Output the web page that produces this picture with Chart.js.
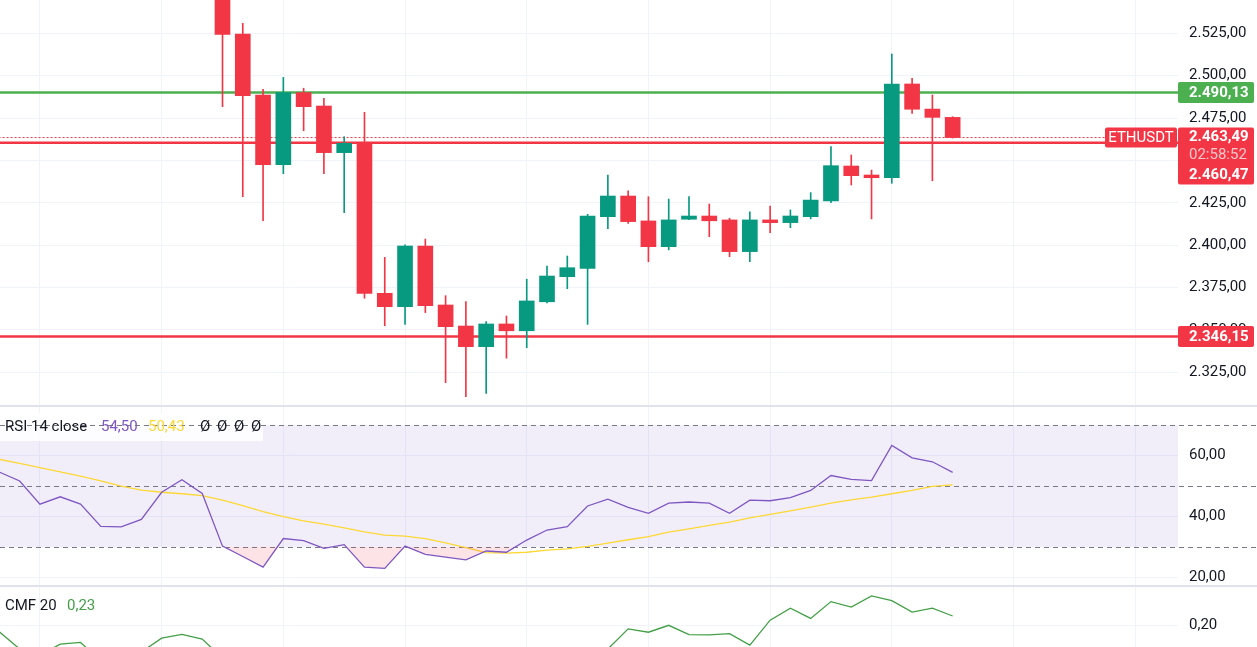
<!DOCTYPE html>
<html>
<head>
<meta charset="utf-8">
<script src="https://cdn.jsdelivr.net/npm/chart.js@4/dist/chart.umd.min.js"></script>
<style>
html, body { margin: 0; padding: 0; background: #fff; overflow: hidden; }
#wrap { position: relative; width: 1257px; height: 647px; }
canvas, .sep { position: absolute; left: 0; }
.sep { width: 1257px; height: 2px; background: #e0e3eb; }
</style>
</head>
<body>
<div id="wrap">
  <canvas id="main" width="1257" height="405" style="top:0"></canvas>
  <div class="sep" style="top:405px"></div>
  <canvas id="rsi" width="1257" height="178" style="top:407px"></canvas>
  <div class="sep" style="top:585px"></div>
  <canvas id="cmf" width="1257" height="60" style="top:587px"></canvas>
</div>
<script>
// bar index 0 sits on the first vertical grid line, candles begin at bar 9
const candleStart = 9;
const opens  = [2560.0, 2524.6, 2488.6, 2447.5, 2490.0, 2482.1, 2454.6, 2460.1, 2371.6, 2363.7,
                2399.5, 2364.7, 2352.3, 2340.1, 2353.5, 2349.5, 2366.6, 2381.4, 2386.3, 2416.8,
                2429.0, 2414.3, 2399.1, 2415.3, 2417.2, 2414.9, 2396.2, 2414.9, 2413.3, 2416.8,
                2426.1, 2446.7, 2441.4, 2439.8, 2495.1, 2480.3, 2475.4];
const highs  = [2566.0, 2530.9, 2492.0, 2499.0, 2492.6, 2486.6, 2464.0, 2478.4, 2392.8, 2400.2,
                2403.6, 2370.2, 2366.7, 2354.9, 2358.2, 2379.9, 2387.7, 2393.6, 2418.2, 2441.4,
                2432.0, 2428.6, 2427.2, 2428.6, 2424.3, 2415.9, 2419.7, 2423.1, 2420.8, 2431.0,
                2458.1, 2453.2, 2444.3, 2512.8, 2498.5, 2488.6, 2475.8];
const lows   = [2481.7, 2428.6, 2414.4, 2442.2, 2467.5, 2442.2, 2419.2, 2368.7, 2352.5, 2353.3,
                2360.2, 2318.9, 2310.6, 2312.6, 2333.3, 2339.5, 2366.0, 2374.3, 2353.3, 2409.7,
                2412.9, 2390.2, 2397.2, 2415.0, 2405.0, 2393.2, 2390.2, 2407.4, 2410.3, 2415.5,
                2425.1, 2435.5, 2415.5, 2436.5, 2477.8, 2438.0, 2463.2];
const closes = [2524.4, 2488.2, 2447.5, 2490.0, 2481.7, 2454.6, 2460.1, 2371.6, 2363.7, 2399.5,
                2364.3, 2351.9, 2340.1, 2353.5, 2349.5, 2367.1, 2381.8, 2386.7, 2417.2, 2429.0,
                2413.9, 2399.1, 2414.9, 2417.2, 2414.4, 2396.2, 2414.9, 2413.3, 2417.2, 2426.6,
                2446.9, 2441.0, 2439.8, 2495.1, 2480.2, 2475.4, 2463.49];

// indicator series begin at bar -2
const indStart = -2;
const rsiValues = [54.6, 51.7, 44.1, 46.5, 44.1, 36.8, 36.6, 39.1, 48.0, 52.1, 47.6,
                   30.3, 26.9, 23.4, 32.8, 32.1, 29.6, 30.8, 23.4, 23.0, 30.3,
                   27.6, 26.7, 25.8, 28.7, 28.3, 32.3, 35.6, 36.7, 43.5, 45.7,
                   43.0, 41.1, 44.4, 44.8, 44.4, 41.1, 45.4, 45.2, 46.2, 48.6,
                   53.5, 52.2, 51.8, 63.4, 59.3, 58.0, 54.50];
const rsiMa = [58.8, 57.5, 56.1, 54.7, 53.3, 51.7, 50.0, 48.7, 48.0, 47.5, 46.9,
               45.4, 43.6, 41.6, 40.0, 38.6, 37.5, 36.3, 35.0, 33.9, 33.6,
               32.8, 31.4, 29.8, 28.2, 28.0, 28.3, 29.0, 29.4, 30.2, 31.3,
               32.4, 33.4, 34.9, 36.0, 37.1, 38.2, 39.6, 40.7, 41.9, 43.1,
               44.4, 45.5, 46.4, 47.5, 48.6, 49.9, 50.43];
const cmfValues = [0.177, 0.12, 0.10, 0.136, 0.142, 0.08, 0.07, 0.11, 0.156, 0.169, 0.153,
                   0.09, 0.06, 0.04, 0.03, 0.02, 0.03, 0.01, -0.02, -0.03, -0.02,
                   -0.04, -0.05, -0.03, -0.02, 0.00, 0.03, 0.05, 0.08, 0.10, 0.12,
                   0.187, 0.176, 0.199, 0.168, 0.167, 0.171, 0.133, 0.216, 0.256, 0.222,
                   0.278, 0.260, 0.297, 0.281, 0.243, 0.256, 0.230];

const priceTicks = [2325, 2350, 2375, 2400, 2425, 2450, 2475, 2500, 2525];
const rsiTicks = [20, 40, 60];
const cmfTicks = [0.20];
const gridBars = [0, 6, 12, 18, 24, 30, 36, 42, 48, 54];

const resistance = 2490.13;
const supports = [2460.47, 2346.15];
const lastPrice = 2463.49;
const symbol = 'ETHUSDT';
const countdown = '02:58:52';

const UP = '#089981', DOWN = '#f23645', GRID = '#f0f3fa', TXT = '#131722';
const FONT = 'Roboto';

function fmt(v) {
  const parts = v.toFixed(2).split('.');
  return parts[0].replace(/\B(?=(\d{3})+(?!\d))/g, '.') + ',' + parts[1];
}

function xScale() {
  return {
    type: 'linear', min: -1.97, max: 56.11, offset: false,
    grid: { color: GRID, drawTicks: false, offset: false },
    border: { display: false },
    ticks: { display: false },
    afterBuildTicks: s => { s.ticks = gridBars.map(v => ({ value: v })); }
  };
}

function yScale(min, max, ticks) {
  return {
    position: 'right', min: min, max: max,
    grid: { color: GRID, drawTicks: false },
    border: { display: false },
    ticks: { padding: 11, color: TXT, font: { family: FONT, size: 15 }, callback: v => fmt(v) },
    afterBuildTicks: s => { s.ticks = ticks.map(v => ({ value: v })); },
    afterFit: s => { s.width = 79; s.paddingTop = 0; s.paddingBottom = 0; }
  };
}

const base = {
  responsive: false, animation: false, devicePixelRatio: 1,
  layout: { padding: 0 },
  plugins: { legend: { display: false }, tooltip: { enabled: false } }
};

function tag(ctx, x, y, w, h, color) {
  ctx.fillStyle = color;
  ctx.beginPath();
  ctx.roundRect(x, y, w, h, 2);
  ctx.fill();
}

function hline(value, color, width, dash) {
  return {
    type: 'line', order: 5,
    data: [{ x: -5, y: value }, { x: 60, y: value }],
    borderColor: color, borderWidth: width, borderDash: dash || [],
    pointRadius: 0, fill: false
  };
}

// ---- price pane ----
const candleColors = opens.map((o, n) => closes[n] >= o ? UP : DOWN);

const priceTags = {
  id: 'priceTags',
  afterDraw(chart) {
    const { ctx, chartArea, scales: { y } } = chart;
    const left = chartArea.right;
    const bold = 'bold 15px ' + FONT;
    ctx.save();
    ctx.textBaseline = 'middle';
    ctx.textAlign = 'left';
    ctx.font = bold;

    let py = y.getPixelForValue(resistance);
    tag(ctx, left, py - 10.5, 76, 21, '#4caf50');
    ctx.fillStyle = '#fff';
    ctx.fillText(fmt(resistance), left + 11, py + 1);

    py = y.getPixelForValue(supports[1]);
    tag(ctx, left, py - 10.5, 76, 21, DOWN);
    ctx.fillStyle = '#fff';
    ctx.fillText(fmt(supports[1]), left + 11, py + 1);

    const pc = y.getPixelForValue(lastPrice);
    tag(ctx, left, pc - 10, 76, 57, DOWN);
    ctx.fillStyle = '#fff';
    ctx.fillText(fmt(lastPrice), left + 11, pc);
    ctx.fillText(fmt(supports[0]), left + 11, pc + 38);
    ctx.font = '15px ' + FONT;
    ctx.fillStyle = 'rgba(255,255,255,0.72)';
    ctx.fillText(countdown, left + 11, pc + 18);

    tag(ctx, left - 73, pc - 10, 72, 20, DOWN);
    ctx.fillStyle = '#fff';
    ctx.textAlign = 'center';
    ctx.font = '15px ' + FONT;
    ctx.fillText(symbol, left - 37, pc + 1);
    ctx.restore();
  }
};

new Chart(document.getElementById('main'), {
  type: 'bar',
  data: {
    datasets: [
      {
        order: 0, grouped: false, barThickness: 15, minBarLength: 1,
        data: opens.map((o, n) => ({ x: candleStart + n, y: [o, closes[n]] })),
        backgroundColor: candleColors
      },
      {
        order: 1, grouped: false, barThickness: 1,
        data: lows.map((l, n) => ({ x: candleStart + n, y: [l, highs[n]] })),
        backgroundColor: candleColors
      },
      hline(resistance, '#4caf50', 2.5),
      hline(supports[0], DOWN, 2.5),
      hline(supports[1], DOWN, 2.5),
      hline(lastPrice, DOWN, 1, [2, 2])
    ]
  },
  options: Object.assign({}, base, {
    scales: { x: xScale(), y: yScale(2305.7, 2544.65, priceTicks) }
  }),
  plugins: [priceTags]
});

// ---- RSI pane ----
const rsiDecor = {
  id: 'rsiDecor',
  beforeDatasetsDraw(chart) {
    const { ctx, chartArea, scales: { y } } = chart;
    ctx.save();
    const top = y.getPixelForValue(70), bot = y.getPixelForValue(30);
    ctx.fillStyle = 'rgba(126,87,194,0.1)';
    ctx.fillRect(chartArea.left, top, chartArea.right - chartArea.left, bot - top);
    ctx.fillStyle = 'rgba(255,255,255,0.85)';
    ctx.fillRect(0, 6, 263, 28);
    ctx.strokeStyle = '#787b86';
    ctx.lineWidth = 1;
    ctx.setLineDash([5, 4]);
    [70, 50, 30].forEach(v => {
      const py = Math.round(y.getPixelForValue(v)) + 0.5;
      ctx.beginPath();
      ctx.moveTo(0, py);
      ctx.lineTo(chart.width, py);
      ctx.stroke();
    });
    ctx.restore();
  },
  afterDatasetsDraw(chart) {
    const ctx = chart.ctx;
    ctx.save();
    ctx.textBaseline = 'middle';
    ctx.font = '15px ' + FONT;
    ctx.fillStyle = TXT;
    ctx.fillText('RSI 14 close', 5, 20);
    ctx.fillStyle = '#7e57c2';
    ctx.fillText(fmt(rsiValues[rsiValues.length - 1]), 101, 20);
    ctx.fillStyle = '#fdd835';
    ctx.fillText(fmt(rsiMa[rsiMa.length - 1]), 148, 20);
    ctx.fillStyle = TXT;
    [200, 217, 234, 251].forEach(x => ctx.fillText('Ø', x, 20));
    ctx.restore();
  }
};

new Chart(document.getElementById('rsi'), {
  type: 'line',
  data: {
    datasets: [
      {
        order: 0,
        data: rsiValues.map((v, n) => ({ x: indStart + n, y: v })),
        borderColor: '#7e57c2', borderWidth: 1.3, pointRadius: 0,
        fill: { target: { value: 30 }, above: 'rgba(0,0,0,0)', below: 'rgba(242,54,69,0.14)' }
      },
      {
        order: 1,
        data: rsiMa.map((v, n) => ({ x: indStart + n, y: v })),
        borderColor: '#fdd835', borderWidth: 1.3, pointRadius: 0, fill: false
      }
    ]
  },
  options: Object.assign({}, base, {
    scales: { x: xScale(), y: yScale(17.54, 75.99, rsiTicks) }
  }),
  plugins: [rsiDecor]
});

// ---- CMF pane ----
const cmfLegend = {
  id: 'cmfLegend',
  afterDatasetsDraw(chart) {
    const ctx = chart.ctx;
    ctx.save();
    ctx.textBaseline = 'middle';
    ctx.font = '15px ' + FONT;
    ctx.fillStyle = TXT;
    ctx.fillText('CMF 20', 5, 19);
    ctx.fillStyle = '#43a047';
    ctx.fillText(fmt(cmfValues[cmfValues.length - 1]), 67, 19);
    ctx.restore();
  }
};

new Chart(document.getElementById('cmf'), {
  type: 'line',
  data: {
    datasets: [{
      data: cmfValues.map((v, n) => ({ x: indStart + n, y: v })),
      borderColor: '#43a047', borderWidth: 1.3, pointRadius: 0, fill: false
    }]
  },
  options: Object.assign({}, base, {
    scales: { x: xScale(), y: yScale(0.1267, 0.3267, cmfTicks) }
  }),
  plugins: [cmfLegend]
});
</script>
</body>
</html>
